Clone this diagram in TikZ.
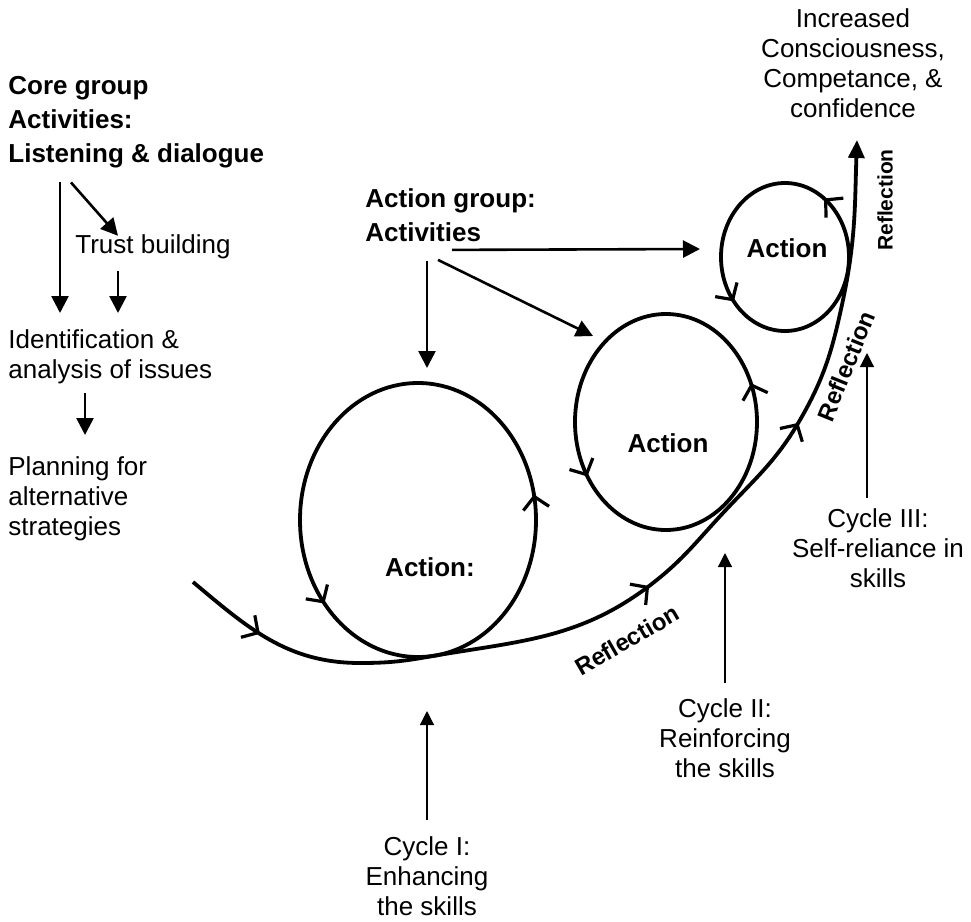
\documentclass[tikz,border=0pt]{standalone}
\usepackage{fontspec}
\setmainfont{Liberation Sans}
\usetikzlibrary{arrows.meta,decorations.markings,calc}

\begin{document}
\begin{tikzpicture}[x=0.5pt,y=-0.5pt]
\tikzstyle{txt}=[inner sep=0pt, font=\fontsize{13}{15}\selectfont, align=left]
\tikzstyle{ctxt}=[txt, align=center]
\tikzstyle{bold}=[inner sep=0pt, font=\fontsize{13}{17}\selectfont\bfseries, align=left]
\tikzstyle{refl}=[inner sep=0pt, font=\fontsize{12}{14}\selectfont\bfseries]
\tikzstyle{arr}=[line width=1.3pt, -{Triangle[length=8.5pt,width=8.5pt]}]
\tikzstyle{thinarr}=[line width=0.6pt, -{Triangle[length=7pt,width=7pt]}]
\tikzstyle{loopline}=[line width=1.9pt]
\tikzset{chev/.tip={Straight Barb[length=6pt,width=13pt,line width=1.6pt]}}

\useasboundingbox (0,0) rectangle (971,922);

\node[bold, anchor=north west] (core) at (8,76) {Core group\\Activities:\\Listening \& dialogue};
\node[txt, anchor=base west] (trust) at (75,253) {Trust building};
\node[txt, anchor=north west] (ident) at (8,329) {Identification \&\\analysis of issues};
\node[txt, anchor=north west] (plan) at (8,456) {Planning for\\alternative\\strategies};
\node[bold, anchor=north west] (actgrp) at (365,188) {Action group:\\Activities};
\node[ctxt, anchor=north] (incr) at (853,8) {Increased\\Consciousness,\\Competance, \&\\confidence};
\node[ctxt, anchor=north] (cycI) at (427,836) {Cycle I:\\Enhancing\\the skills};
\node[ctxt, anchor=north] (cycII) at (725,698) {Cycle II:\\Reinforcing\\the skills};
\node[ctxt, anchor=north] (cycIII) at (878,508) {Cycle III:\\Self-reliance in\\skills};

\node[bold] (actA) at (430,567) {Action:};
\node[bold] (actB) at (668,443) {Action};
\node[bold] (actC) at (787,248) {Action};
\node[refl, rotate=30] (reflA) at (627,640) {Reflection};
\node[refl, rotate=68] (reflB) at (846,366) {Reflection};
\node[refl, rotate=90, font=\fontsize{10.5}{12}\selectfont\bfseries] (reflC) at (885,200) {Reflection};

\coordinate (tipA) at (427,368);
\coordinate (tipB) at (593,336);
\coordinate (tipC) at (700,249);
\coordinate (tipI) at (427,711);
\coordinate (tipII) at (725,553);
\coordinate (tipIII) at (867,353);

\draw[loopline, postaction={decorate}, decoration={markings,
  mark=at position 0.032 with {\arrow{chev}}, mark=at position 0.61 with {\arrow{chev}}}]
  (536,520) arc[start angle=0, end angle=-360, x radius=118, y radius=137];
\draw[loopline, postaction={decorate}, decoration={markings,
  mark=at position 0.063 with {\arrow{chev}}, mark=at position 0.59 with {\arrow{chev}}}]
  (757,422) arc[start angle=0, end angle=-360, x radius=91, y radius=108];
\draw[loopline, postaction={decorate}, decoration={markings,
  mark=at position 0.151 with {\arrow{chev}}, mark=at position 0.608 with {\arrow{chev}}}]
  (849,257) arc[start angle=0, end angle=-360, x radius=64, y radius=74];
\draw[loopline, -{Triangle[length=9pt,width=8pt]}, postaction={decorate}, decoration={markings,
  mark=at position 0.084 with {\arrow{chev}}, mark=at position 0.49 with {\arrow{chev}},
  mark=at position 0.71 with {\arrow{chev}}}]
  (193,582) to[out=-40,in=180] (360,663) to[out=0,in=-170] (427,657)
  to[out=10,in=-142] (653,583) to[out=38,in=-133] (723,513)
  to[out=47,in=-120] (800,420) to[out=60,in=-102] (843,300) to[out=78,in=-92] (857,140);

\draw[arr] ($(core.south west)+(52,14)$) -- ($(ident.north west)+(52,-16)$);
\draw[arr] ($(core.south west)+(63,14)$) -- ($(trust.north west)+(43,2)$);
\draw[arr] ($(trust.south west)+(43,12)$) -- ($(ident.north west)+(110,-16)$);
\draw[arr] ($(ident.south west)+(77,9)$) -- ($(plan.north west)+(77,-21)$);
\draw[arr] ($(actgrp.south west)+(87,8)$) -- (tipC);
\draw[arr] ($(actgrp.south west)+(62,19)$) -- (tipA);
\draw[arr] ($(actgrp.south west)+(73,18)$) -- (tipB);

\draw[thinarr] ($(cycI.north)+(0,-16)$) -- (tipI);
\draw[thinarr] ($(cycII.north)+(0,-15)$) -- (tipII);
\draw[thinarr] ($(cycIII.north)+(-11,-10)$) -- (tipIII);
\end{tikzpicture}
\end{document}
